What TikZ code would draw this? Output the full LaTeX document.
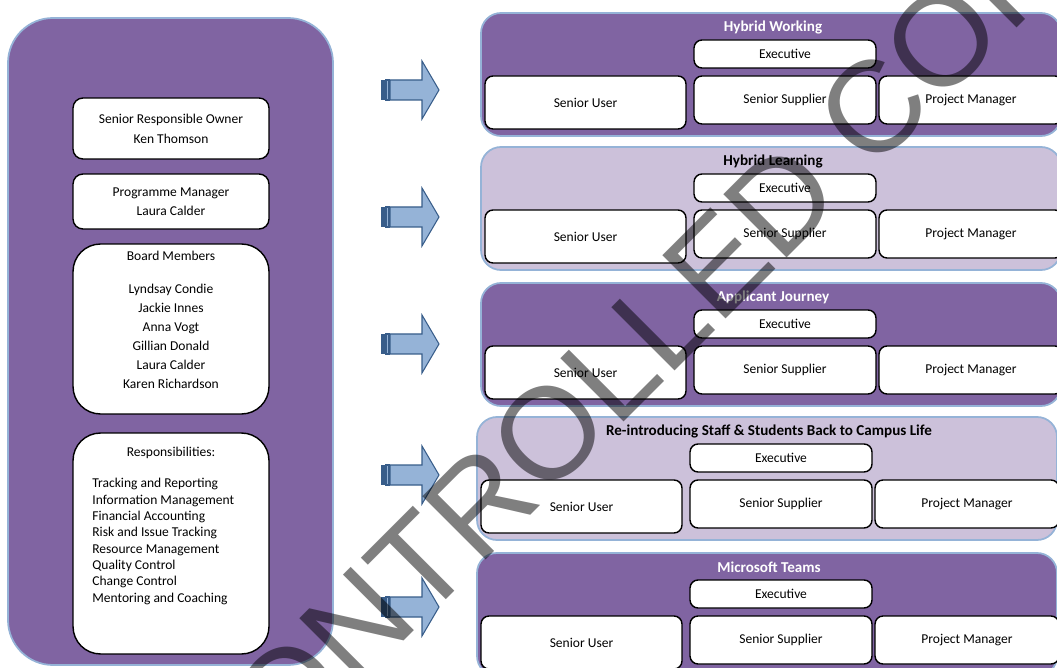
\documentclass[tikz,border=0pt]{standalone}
\usepackage{fontspec}
\setmainfont{Carlito}
\newfontfamily\markfont{Liberation Sans}
\usepackage{tikz}

\definecolor{panelpurple}{RGB}{128,100,162}
\definecolor{palepurple}{RGB}{204,193,218}
\definecolor{edgeblue}{RGB}{149,179,215}
\definecolor{arrowfill}{RGB}{149,179,215}
\definecolor{arrowline}{RGB}{56,93,138}

\begin{document}
\begin{tikzpicture}[x=0.02cm, y=-0.02cm, font=\fontsize{7.7}{9.3}\selectfont,
    panel/.style={draw=edgeblue, line width=1pt, rounded corners=0.4cm},
    role/.style={draw=black, line width=0.8pt, fill=white, rounded corners=0.16cm, inner sep=0pt, align=center},
    paneltitle/.style={font=\bfseries\fontsize{8.6}{10}\selectfont, inner sep=0pt},
    stamp/.style={text=black, text opacity=0.5, font=\markfont\fontsize{74}{80}\selectfont, inner sep=0pt}]
        \useasboundingbox (0,0) rectangle (1057,668);
        \clip (0,0) rectangle (1057,668);

        % Programme board on the left
        \draw[panel, fill=panelpurple, rounded corners=0.9cm] (8,18) rectangle (333,665);
        \node[role, rounded corners=0.2cm, minimum width=3.92cm, minimum height=1.22cm] (sro) at (171,128.5) {Senior Responsible Owner\\[2pt] Ken Thomson};
        \node[role, rounded corners=0.2cm, minimum width=3.92cm, minimum height=1.1cm] (progman) at (171,201.5) {Programme Manager\\[1.5pt] Laura Calder};
        \node[role, rounded corners=0.55cm, minimum width=3.92cm, minimum height=3.4cm] (board) at (171,329) {};
        \node[anchor=north, align=center, inner sep=0pt] (boardlist) at (171,251) {Board Members\\[9.4pt] Lyndsay Condie\\[1.5pt] Jackie Innes\\[1.5pt] Anna Vogt\\[1.5pt] Gillian Donald\\[1.5pt] Laura Calder\\[1.5pt] Karen Richardson};
        \node[role, rounded corners=0.55cm, minimum width=3.92cm, minimum height=4.42cm] (duties) at (171,543.5) {};
        \node[anchor=north, inner sep=0pt] (dutyhead) at (171,447) {Responsibilities:};
        \node[anchor=north west, align=left, inner sep=0pt] (dutylist) at (92,478) {Tracking and Reporting\\ Information Management\\ Financial Accounting\\ Risk and Issue Tracking\\ Resource Management\\ Quality Control\\ Change Control\\ Mentoring and Coaching};

        % Striped arrows
        \foreach \ay in {90,217,344,475,607} {
            \draw[arrowline, fill=arrowfill, line width=0.6pt] (390,\ay-10) -- (422,\ay-10) -- (422,\ay-29) -- (439,\ay) -- (422,\ay+29) -- (422,\ay+10) -- (390,\ay+10) -- cycle;
            \draw[arrowline, fill=arrowfill, line width=0.6pt] (386,\ay-10) rectangle (389,\ay+10);
            \fill[arrowline] (381,\ay-10) rectangle (385,\ay+10);
        }

        % Project boards
        \foreach \p/\L/\T/\shade/\ink/\title in {work/481/13/panelpurple/white/Hybrid Working,
                learn/481/147/palepurple/black/Hybrid Learning,
                journey/481/283/panelpurple/white/Applicant Journey,
                campus/477/417/palepurple/black/Re-introducing Staff \& Students Back to Campus Life,
                teams/477/553/panelpurple/white/Microsoft Teams} {
            \draw[panel, fill=\shade] (\L,\T) rectangle (\L+580,\T+123);
            \node[paneltitle, text=\ink] (\p-title) at (\L+292,\T+14) {\title};
            \node[role, minimum width=3.64cm, minimum height=0.56cm] (\p-exec) at (\L+304,\T+41) {Executive};
            \node[role, minimum width=4.02cm, minimum height=1.06cm] (\p-user) at (\L+104.5,\T+89.5) {Senior User};
            \node[role, minimum width=3.64cm, minimum height=0.96cm] (\p-supp) at (\L+304,\T+87) {Senior Supplier};
            \node[role, minimum width=3.68cm, minimum height=0.96cm] (\p-pm) at (\L+490,\T+87) {Project Manager};
        }

        % Watermark
        \node[stamp, rotate=45] (mark) at (577,405) {UNCONTROLLED COPY};
\end{tikzpicture}
\end{document}
